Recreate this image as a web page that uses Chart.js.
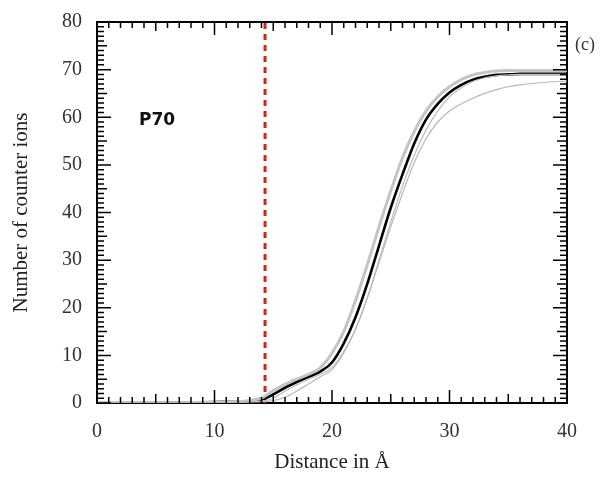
<!DOCTYPE html>
<html>
<head>
<meta charset="utf-8">
<script src="https://cdn.jsdelivr.net/npm/chart.js@4"></script>
<style>
  html, body { margin: 0; padding: 0; background: #fff; }
  #wrap { width: 603px; height: 480px; position: relative; }
</style>
</head>
<body>
<div id="wrap"><canvas id="ionChart"></canvas></div>
<script>
// distance from the surface (Å) and counter ion counts
const distance = [0, 4, 8, 10, 12, 13, 14, 15, 16, 17, 18, 19, 20, 21, 22, 23, 24, 25, 26, 27, 28, 29, 30, 31, 32, 33, 34, 35, 36, 38, 40];
const meanIons = [0, 0, 0.1, 0.2, 0.3, 0.4, 0.7, 1.8, 3.2, 4.4, 5.5, 6.6, 8.5, 12.5, 18, 25, 33, 41, 48, 54.5, 59.5, 62.8, 65.2, 66.8, 67.9, 68.5, 68.9, 69, 69.1, 69.1, 69.1];
const runA = [0, 0, 0.1, 0.2, 0.3, 0.5, 1.0, 2.6, 3.9, 5.0, 6.0, 7.4, 10.5, 15, 21.5, 29, 37, 44.5, 51.5, 57, 61.3, 64.3, 66.4, 67.9, 68.9, 69.4, 69.7, 69.8, 69.8, 69.8, 69.8];
const runB = [0, 0, 0, 0.1, 0.2, 0.3, 0.4, 1.0, 2.5, 3.8, 5.0, 6.0, 7.5, 10.8, 15.5, 22, 30, 38, 45.5, 52, 57.3, 61.3, 64.3, 66.2, 67.5, 68.3, 68.7, 68.9, 69, 69, 69];
const runC = [0, 0, 0, 0, 0.1, 0.2, 0.3, 0.5, 1.2, 2.5, 4.0, 5.5, 7, 10.5, 15.5, 22, 29.5, 37, 44, 50.5, 55.5, 59, 61.3, 62.8, 64, 65, 65.8, 66.4, 66.8, 67.3, 67.6];
const cutoff = 14.3;
const xTicks = [0, 10, 20, 30, 40];
const yTicks = [0, 10, 20, 30, 40, 50, 60, 70, 80];

const toPoints = ys => distance.map((d, i) => ({ x: d, y: ys[i] }));

const curve = (data, color, width) => ({
    data: toPoints(data),
    borderColor: color,
    borderWidth: width,
    pointRadius: 0,
    cubicInterpolationMode: 'monotone',
    fill: false
});

// white page, inward minor/major ticks on all four sides, and the text labels
const decorations = {
    id: 'decorations',
    beforeDraw(chart) {
        const ctx = chart.ctx;
        ctx.save();
        ctx.fillStyle = '#fff';
        ctx.fillRect(0, 0, chart.width, chart.height);
        ctx.restore();
    },
    afterDraw(chart) {
        const { ctx, chartArea: a, scales } = chart;
        ctx.save();
        ctx.strokeStyle = '#000';
        ctx.lineWidth = 1.5;
        ctx.beginPath();
        for (let v = 0; v <= 40; v++) {
            const px = scales.x.getPixelForValue(v);
            const len = v % 10 === 0 ? 13 : (v % 5 === 0 ? 9 : 6);
            ctx.moveTo(px, a.bottom); ctx.lineTo(px, a.bottom - len);
            ctx.moveTo(px, a.top); ctx.lineTo(px, a.top + len);
        }
        for (let v = 0; v <= 80; v++) {
            const py = scales.y.getPixelForValue(v);
            const len = v % 10 === 0 ? 14 : (v % 5 === 0 ? 10 : 7);
            ctx.moveTo(a.left, py); ctx.lineTo(a.left + len, py);
            ctx.moveTo(a.right, py); ctx.lineTo(a.right - len, py);
        }
        ctx.stroke();

        ctx.fillStyle = '#111';
        ctx.font = 'bold 17px "DejaVu Sans"';
        ctx.textBaseline = 'middle';
        ctx.fillText('P70', 139, 121);
        ctx.font = '18px "Liberation Serif"';
        ctx.fillStyle = '#333';
        ctx.fillText('(c)', 575, 45);
        ctx.restore();
    }
};

const sizeAxis = (w, h) => scale => {
    if (w !== null) scale.width = w;
    if (h !== null) scale.height = h;
};

const tickFont = { family: 'Liberation Serif', size: 20 };
const titleFont = { family: 'Liberation Serif', size: 21 };

new Chart(document.getElementById('ionChart'), {
    type: 'line',
    data: {
        datasets: [
            curve(runC, '#b8b8b8', 1.2),
            curve(runB, '#bdbdbd', 1.2),
            curve(runA, '#c4c4c4', 3),
            curve(meanIons, '#000', 2.6),
            {
                data: [{ x: cutoff, y: 0 }, { x: cutoff, y: 80 }],
                borderColor: '#c8281e',
                borderWidth: 3,
                borderDash: [6, 5],
                pointRadius: 0
            }
        ]
    },
    options: {
        responsive: true,
        maintainAspectRatio: false,
        animation: false,
        layout: { padding: 0 },
        plugins: { legend: { display: false }, tooltip: { enabled: false } },
        scales: {
            x: {
                type: 'linear', position: 'bottom', min: 0, max: 40,
                afterBuildTicks: s => { s.ticks = xTicks.map(v => ({ value: v })); },
                afterFit: sizeAxis(null, 77),
                grid: { display: false },
                border: { display: true, color: '#000', width: 2 },
                ticks: { font: tickFont, color: '#333', padding: 9 },
                title: { display: true, text: 'Distance in Å', font: titleFont, color: '#222', padding: { top: 0, bottom: 5 } }
            },
            xTop: {
                type: 'linear', position: 'top', min: 0, max: 40,
                afterFit: sizeAxis(null, 22),
                grid: { display: false },
                border: { display: true, color: '#000', width: 2 },
                ticks: { display: false }
            },
            y: {
                type: 'linear', position: 'left', min: 0, max: 80,
                afterBuildTicks: s => { s.ticks = yTicks.map(v => ({ value: v })); },
                afterFit: sizeAxis(97, null),
                grid: { display: false },
                border: { display: true, color: '#000', width: 2 },
                ticks: { font: tickFont, color: '#333', padding: 7 },
                title: { display: true, text: 'Number of counter ions', font: titleFont, color: '#222', padding: { top: 9, bottom: 0 } }
            },
            yRight: {
                type: 'linear', position: 'right', min: 0, max: 80,
                afterFit: sizeAxis(36, null),
                grid: { display: false },
                border: { display: true, color: '#000', width: 2 },
                ticks: { display: false }
            }
        }
    },
    plugins: [decorations]
});
</script>
</body>
</html>
